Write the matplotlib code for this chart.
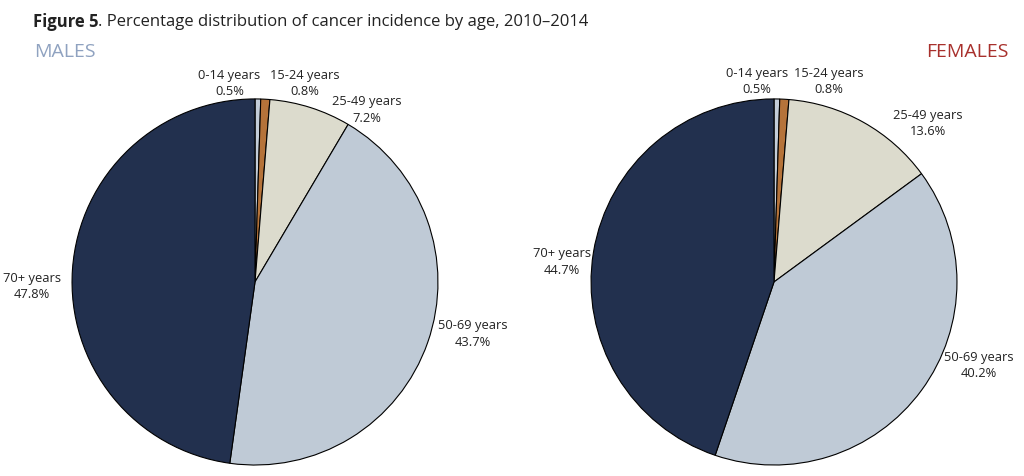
import matplotlib
matplotlib.use("Agg")
import matplotlib.pyplot as plt

plt.rcParams['font.family'] = ['Open Sans', 'DejaVu Sans']

groups = ["0-14 years", "15-24 years", "25-49 years", "50-69 years", "70+ years"]
males = [0.5, 0.8, 7.2, 43.7, 47.8]
females = [0.5, 0.8, 13.6, 40.2, 44.7]
colors = ["#c3cdd9", "#b5733a", "#dcdbcd", "#bfcad6", "#22304e"]

# label spots, in units of pie radius
males_pos = [(-0.14, 1.09), (0.27, 1.09), (0.61, 0.945), (1.19, -0.28), (-1.22, -0.02)]
females_pos = [(-0.093, 1.10), (0.30, 1.10), (0.84, 0.87), (1.12, -0.45), (-1.16, 0.115)]

fig = plt.figure(figsize=(10.24, 4.77), dpi=100)


def draw_pie(left, values, pos):
    ax = fig.add_axes([left, 0, 494 / 1024, 1])
    ax.pie(values, colors=colors, startangle=90, counterclock=False,
           wedgeprops=dict(edgecolor="black", linewidth=0.8))
    ax.set_xlim(-1.35, 1.35)
    ax.set_ylim(-1.06, 1.546)
    ax.set_aspect("auto")
    ax.axis("off")
    for g, v, (x, y) in zip(groups, values, pos):
        ax.text(x, y, f"{g}\n{v}%", ha="center", va="center",
                fontsize=9.3, linespacing=1.35, color="#222222")
    return ax


draw_pie(8 / 1024, males, males_pos)
draw_pie(527 / 1024, females, females_pos)

t1 = fig.text(33 / 1024, 1 - 22 / 477, "Figure 5", fontsize=12, fontweight="bold",
              va="center", color="#222222")
fig.canvas.draw()
bb = t1.get_window_extent(fig.canvas.get_renderer())
fig.text(bb.x1 / 1024, 1 - 22 / 477,
         ". Percentage distribution of cancer incidence by age, 2010\u20132014",
         fontsize=12, va="center", color="#222222")
fig.text(34 / 1024, 1 - 52 / 477, "MALES", fontsize=14, color="#8fa2c0", va="center")
fig.text(1008 / 1024, 1 - 52 / 477, "FEMALES", fontsize=14, color="#a8302c",
         va="center", ha="right")

fig.savefig("out.png", dpi=100)
